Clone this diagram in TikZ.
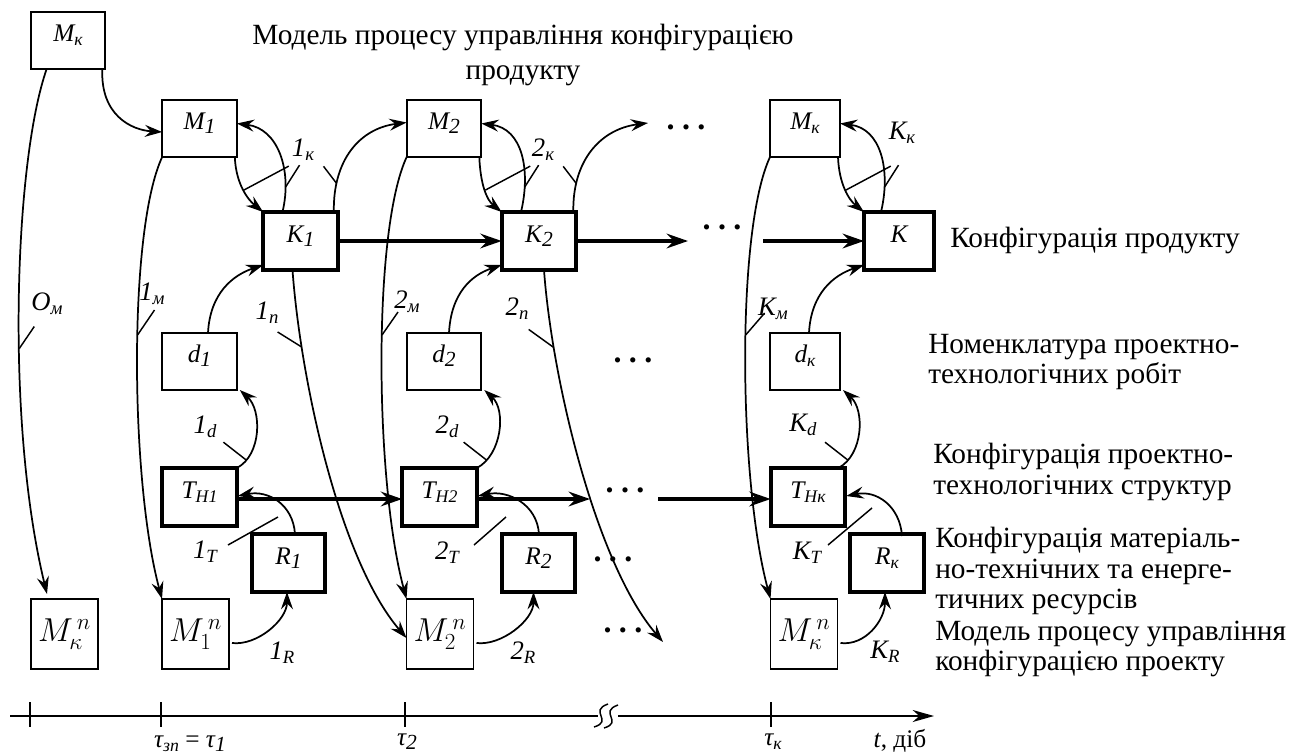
\documentclass[tikz,border=0pt]{standalone}
\usepackage[no-math]{fontspec}
\setmainfont{Liberation Serif}
\usetikzlibrary{arrows.meta,calc}
% lowered, reduced subscript
\newcommand\lo[2][0.7]{\raisebox{-0.35ex}{\scalebox{#1}{#2}}}
% spaced ellipsis
\newcommand\dotrow{\textbf{.}\kern5.5pt\textbf{.}\kern5.5pt\textbf{.}}
\begin{document}
\begin{tikzpicture}[x=0.75pt,y=-0.75pt,
  boxlab/.style={inner sep=0pt,outer sep=0pt,font=\fontsize{19}{21}\selectfont\itshape,text height=12.5pt,text depth=11pt},
  thinbox/.style={boxlab,draw,line width=1.4pt,minimum width=56pt,minimum height=42.75pt},
  thickbox/.style={boxlab,draw,line width=3pt,minimum width=56pt,minimum height=43.5pt},
  bigbox/.style={draw,line width=1.4pt,minimum width=50.25pt,minimum height=52.5pt,inner sep=0pt,outer sep=0pt,font=\fontsize{26}{30}\selectfont},
  ln/.style={line width=1.3pt},
  arr/.style={-{Stealth[length=13pt,width=9pt,inset=4.5pt]}},
  thk/.style={line width=2.8pt,-{Stealth[length=16pt,width=11pt,inset=5.5pt]}},
  tk/.style={line width=1.1pt},
  lab/.style={inner sep=0pt,font=\fontsize{20}{22}\selectfont\itshape},
  axlab/.style={inner sep=0pt,font=\fontsize{19}{21}\selectfont\itshape},
  txt/.style={inner sep=0pt,anchor=west,align=left,font=\fontsize{22}{23}\selectfont},
  dotsnode/.style={inner sep=0pt,anchor=base,font=\fontsize{24}{26}\selectfont},
]
\useasboundingbox (0,0) rectangle (1304,754);

% ---------- boxes ----------
\node[thinbox] (Mk0) at (68,40.5) {M\lo{к}};
\node[thinbox] (M1) at (199.5,128.5) {M\lo[0.85]{1}};
\node[thinbox] (M2) at (444,128.5) {M\lo[0.85]{2}};
\node[thinbox,minimum width=52.5pt] (Mk) at (805,128.5) {M\lo{к}};

\node[thickbox] (K1) at (300.5,241) {K\lo[0.85]{1}};
\node[thickbox] (K2) at (539,241) {K\lo[0.85]{2}};
\node[thickbox,minimum width=52.5pt] (K) at (899,241) {К};

\node[thinbox] (d1) at (199.5,361.5) {d\lo[0.85]{1}};
\node[thinbox] (d2) at (444,361.5) {d\lo[0.85]{2}};
\node[thinbox,minimum width=52.5pt] (dk) at (805,361.5) {d\lo{к}};

\node[thickbox] (TH1) at (199.5,497) {T\lo{H1}};
\node[thickbox] (TH2) at (439.5,497) {T\lo{H2}};
\node[thickbox] (THk) at (808,497) {T\lo{Hк}};

\node[thickbox,minimum width=55pt] (R1) at (288.5,563) {R\lo[0.85]{1}};
\node[thickbox,minimum width=55pt] (R2) at (538.5,563) {R\lo[0.85]{2}};
\node[thickbox,minimum width=55pt] (Rk) at (887,563) {R\lo{к}};

\node[bigbox] (Mkn0) at (64.5,634) {$M^{\,n}_{\kappa}$};
\node[bigbox] (M1n) at (195.5,634) {$M^{\,n}_{1}$};
\node[bigbox] (M2n) at (440,634) {$M^{\,n}_{2}$};
\node[bigbox] (Mkn) at (804,634) {$M^{\,n}_{\kappa}$};

% ---------- free ends ----------
\coordinate (topout) at (648,123);
\coordinate (kout) at (688,241);
\coordinate (kin) at (763,241);
\coordinate (thout) at (590,499);
\coordinate (thin) at (658,499);
\coordinate (nout) at (663,642);

% ---------- texts ----------
\node[inner sep=0pt,align=center,font=\fontsize{22}{26}\selectfont] (title) at (523,55)
  {Модель процесу управління конфігурацією\\продукту};
\node[txt] (tK) at (950,240) {Конфігурація продукту};
\node[txt] (tD) at (928,362) {Номенклатура проектно-\\технологічних робіт};
\node[txt] (tT) at (933,472) {Конфігурація проектно-\\технологічних структур};
\node[txt] (tR) at (935,571) {Конфігурація матеріаль-\\но-технічних та енерге-\\тичних ресурсів};
\node[txt] (tM) at (935,649) {Модель процесу управління\\конфігурацією проекту};

% ---------- dots ----------
\node[dotsnode] (dt1) at (686,129) {\dotrow};
\node[dotsnode] (dt2) at (722,229) {\dotrow};
\node[dotsnode] (dt3) at (633,362) {\dotrow};
\node[dotsnode] (dt4) at (625,492) {\dotrow};
\node[dotsnode] (dt5) at (613,561) {\dotrow};
\node[dotsnode] (dt6) at (623,632) {\dotrow};

% ---------- long links from the model boxes ----------
\draw[ln,arr] ($(Mk0.south west)+(16,0)$) .. controls +(-32,91) and +(-42,-173) ..
  ($(Mkn0.north west)+(16,-5)$) coordinate[pos=0.58] (tOm);
\draw[ln,arr] ($(Mk0.south east)+(-3,0)$) .. controls +(-2,46) and +(-31,-2) .. ($(M1.west)+(0,3.5)$);

\foreach \m/\n in {M1/M1n, M2/M2n, Mk/Mkn}{
  \draw[ln,arr] (\m.south west) .. controls +(-34,73) and +(-32,-119) ..
    (\n.north west) coordinate[pos=0.45] (t\m);
}
\draw[tk] (tOm) -- ++(15,-22);
\draw[tk] (tM1) -- ++(17,-25);
\draw[tk] (tM2) -- ++(16,-23);
\draw[tk] (tMk) -- ++(19,-22);
\node[lab] (lOm) at (47,304) {О\lo{м}};
\node[lab] (l1m) at (152,294) {1\lo{м}};
\node[lab] (l2m) at (407,302) {2\lo{м}};
\node[lab] (lKm) at (773,309) {К\lo{м}};

% ---------- model <-> product configuration ----------
\foreach \m/\k in {M1/K1, M2/K2, Mk/K}{
  \draw[ln,arr] ($(\m.south east)+(-2,0)$) .. controls +(1,27) and +(-15,-12) ..
    (\k.north west) coordinate[pos=0.5] (a\k);
  \draw[ln,arr] ($(\k.north)+(-18,0)$) .. controls +(10,-42) and +(41,5) ..
    ($(\m.east)+(0,-5)$) coordinate[pos=0.2] (b\k);
  \draw[tk] (a\k) -- ++(45,-24);
  \draw[tk] (b\k) -- ++(14,-22);
}
\draw[ln,arr] ($(K1.north east)+(-4,0)$) .. controls +(-1,-52) and +(-47,6) ..
  ($(M2.west)+(0,-6)$) coordinate[pos=0.2] (cK1);
\draw[ln,arr] ($(K2.north east)+(-3,0)$) .. controls +(-1,-52) and +(-47,6) ..
  (topout) coordinate[pos=0.2] (cK2);
\draw[tk] (cK1) -- ++(-13,-17);
\draw[tk] (cK2) -- ++(-13,-17);
\node[lab] (l1k) at (303,150) {1\lo{к}};
\node[lab] (l2k) at (543,150) {2\lo{к}};
\node[lab] (lKk) at (902,133) {К\lo{к}};

% ---------- product configuration chain ----------
\draw[thk] (K1.east) -- (K2.west);
\draw[thk] (K2.east) -- (kout);
\draw[thk] (kin) -- (K.west);

% ---------- product configuration -> next project model ----------
\draw[ln,arr] ($(K1.south)+(-8,0)$) .. controls +(8,110) and +(-67,-78) ..
  ($(M2n.west)+(0,4)$) coordinate[pos=0.21] (nK1);
\draw[ln,arr] ($(K2.south)+(5,0)$) .. controls +(8,110) and +(-67,-78) ..
  (nout) coordinate[pos=0.21] (nK2);
\draw[tk] (nK1) -- ++(-24,-15);
\draw[tk] (nK2) -- ++(-25,-18);
\node[lab] (l1n) at (267,313) {1\lo{п}};
\node[lab] (l2n) at (517,309) {2\lo{п}};

% ---------- work nomenclature ----------
\draw[ln,arr] ($(d1.north)+(8.5,0)$) .. controls +(2,-40) and +(-30,10) .. ($(K1.west)+(0,24)$);
\draw[ln,arr] ($(d2.north)+(5,0)$) .. controls +(2,-40) and +(-30,10) .. ($(K2.west)+(0,24)$);
\draw[ln,arr] ($(dk.north)+(4,0)$) .. controls +(2,-40) and +(-30,10) .. ($(K.west)+(0,24)$);

\draw[ln,arr] (TH1.north east) .. controls +(25,-13) and +(22,20) ..
  ($(d1.south east)+(3,0)$) coordinate[pos=0.15] (e1);
\draw[ln,arr] (TH2.north east) .. controls +(25,-13) and +(22,20) ..
  ($(d2.south east)+(3,0)$) coordinate[pos=0.15] (e2);
\draw[ln,arr] ($(THk.north east)+(-7,0)$) .. controls +(25,-13) and +(22,20) ..
  ($(dk.south east)+(3,0)$) coordinate[pos=0.15] (ek);
\draw[tk] (e1) -- ++(-23,-18);
\draw[tk] (e2) -- ++(-23,-18);
\draw[tk] (ek) -- ++(-23,-18);
\node[lab] (l1d) at (205,427) {1\lo{d}};
\node[lab] (l2d) at (447,427) {2\lo{d}};
\node[lab] (lKd) at (803,425) {К\lo{d}};

% ---------- project structures chain ----------
\draw[thk] ($(TH1.east)+(0,2)$) -- ($(TH2.west)+(0,2)$);
\draw[thk] ($(TH2.east)+(0,2)$) -- (thout);
\draw[thk] (thin) -- ($(THk.west)+(0,2)$);

% ---------- resources ----------
\draw[ln,arr] ($(R1.north)+(6.5,0)$) .. controls +(-2,-30) and +(30,-6) .. ($(TH1.east)+(1,-1)$);
\draw[ln,arr] ($(R2.north)+(0.5,0)$) .. controls +(-2,-30) and +(30,-6) .. ($(TH2.east)+(1,-1)$);
\draw[ln,arr] ($(Rk.north)+(15,2)$) .. controls +(-2,-30) and +(30,-6) .. ($(THk.east)+(1,-1)$);
\coordinate (f1) at (228,545);
\coordinate (f2) at (474,545);
\coordinate (fk) at (828,545);
\draw[tk] (f1) -- ++(50,-28);
\draw[tk] (f2) -- ++(32,-28);
\draw[tk] (fk) -- ++(44,-37);
\node[lab] (l1T) at (205,552) {1\lo{T}};
\node[lab] (l2T) at (447,553) {2\lo{T}};
\node[lab] (lKT) at (807,553) {К\lo{T}};

\draw[ln,arr] ($(M1n.east)+(3,9)$) .. controls +(25,3) and +(0,28) .. ($(R1.south)+(-1.5,0)$);
\draw[ln,arr] ($(M2n.east)+(3,9)$) .. controls +(25,3) and +(0,28) .. ($(R2.south)+(-5,0)$);
\draw[ln,arr] ($(Mkn.east)+(3,9)$) .. controls +(25,3) and +(0,28) .. ($(Rk.south)+(-2,0)$);
\node[lab] (l1R) at (282,653) {1\lo{R}};
\node[lab] (l2R) at (523,653) {2\lo{R}};
\node[lab] (lKR) at (885,652) {К\lo{R}};

% ---------- time axis ----------
\coordinate (ax0) at (10,716);
\coordinate (axb1) at (598,716);
\coordinate (axb2) at (618,716);
\coordinate (ax1) at (934,716);
\draw[ln] (ax0) -- (axb1);
\draw[ln,-{Stealth[length=16pt,width=9pt,inset=5pt]}] (axb2) -- (ax1);
\draw[tk] (594,727) .. controls (614,721) and (588,711) .. (608,704);
\draw[tk] (604,728) .. controls (624,722) and (598,712) .. (618,705);
\foreach \x/\nm in {30/k0,161/k1,405/k2,771/kk}{
  \draw[ln] (\x,702) -- (\x,727) coordinate (tick\nm);
}
\node[axlab] (tau1) at (190,744) {τ\lo{зп} {\upshape =} τ\lo[0.85]{1}};
\node[axlab] (tau2) at (407,742) {τ\lo[0.85]{2}};
\node[axlab] (tauk) at (773,742) {τ\lo{к}};
\node[axlab,font=\fontsize{19}{21}\selectfont\upshape] (tlab) at (900,741) {\textit{t}, діб};
\end{tikzpicture}
\end{document}
